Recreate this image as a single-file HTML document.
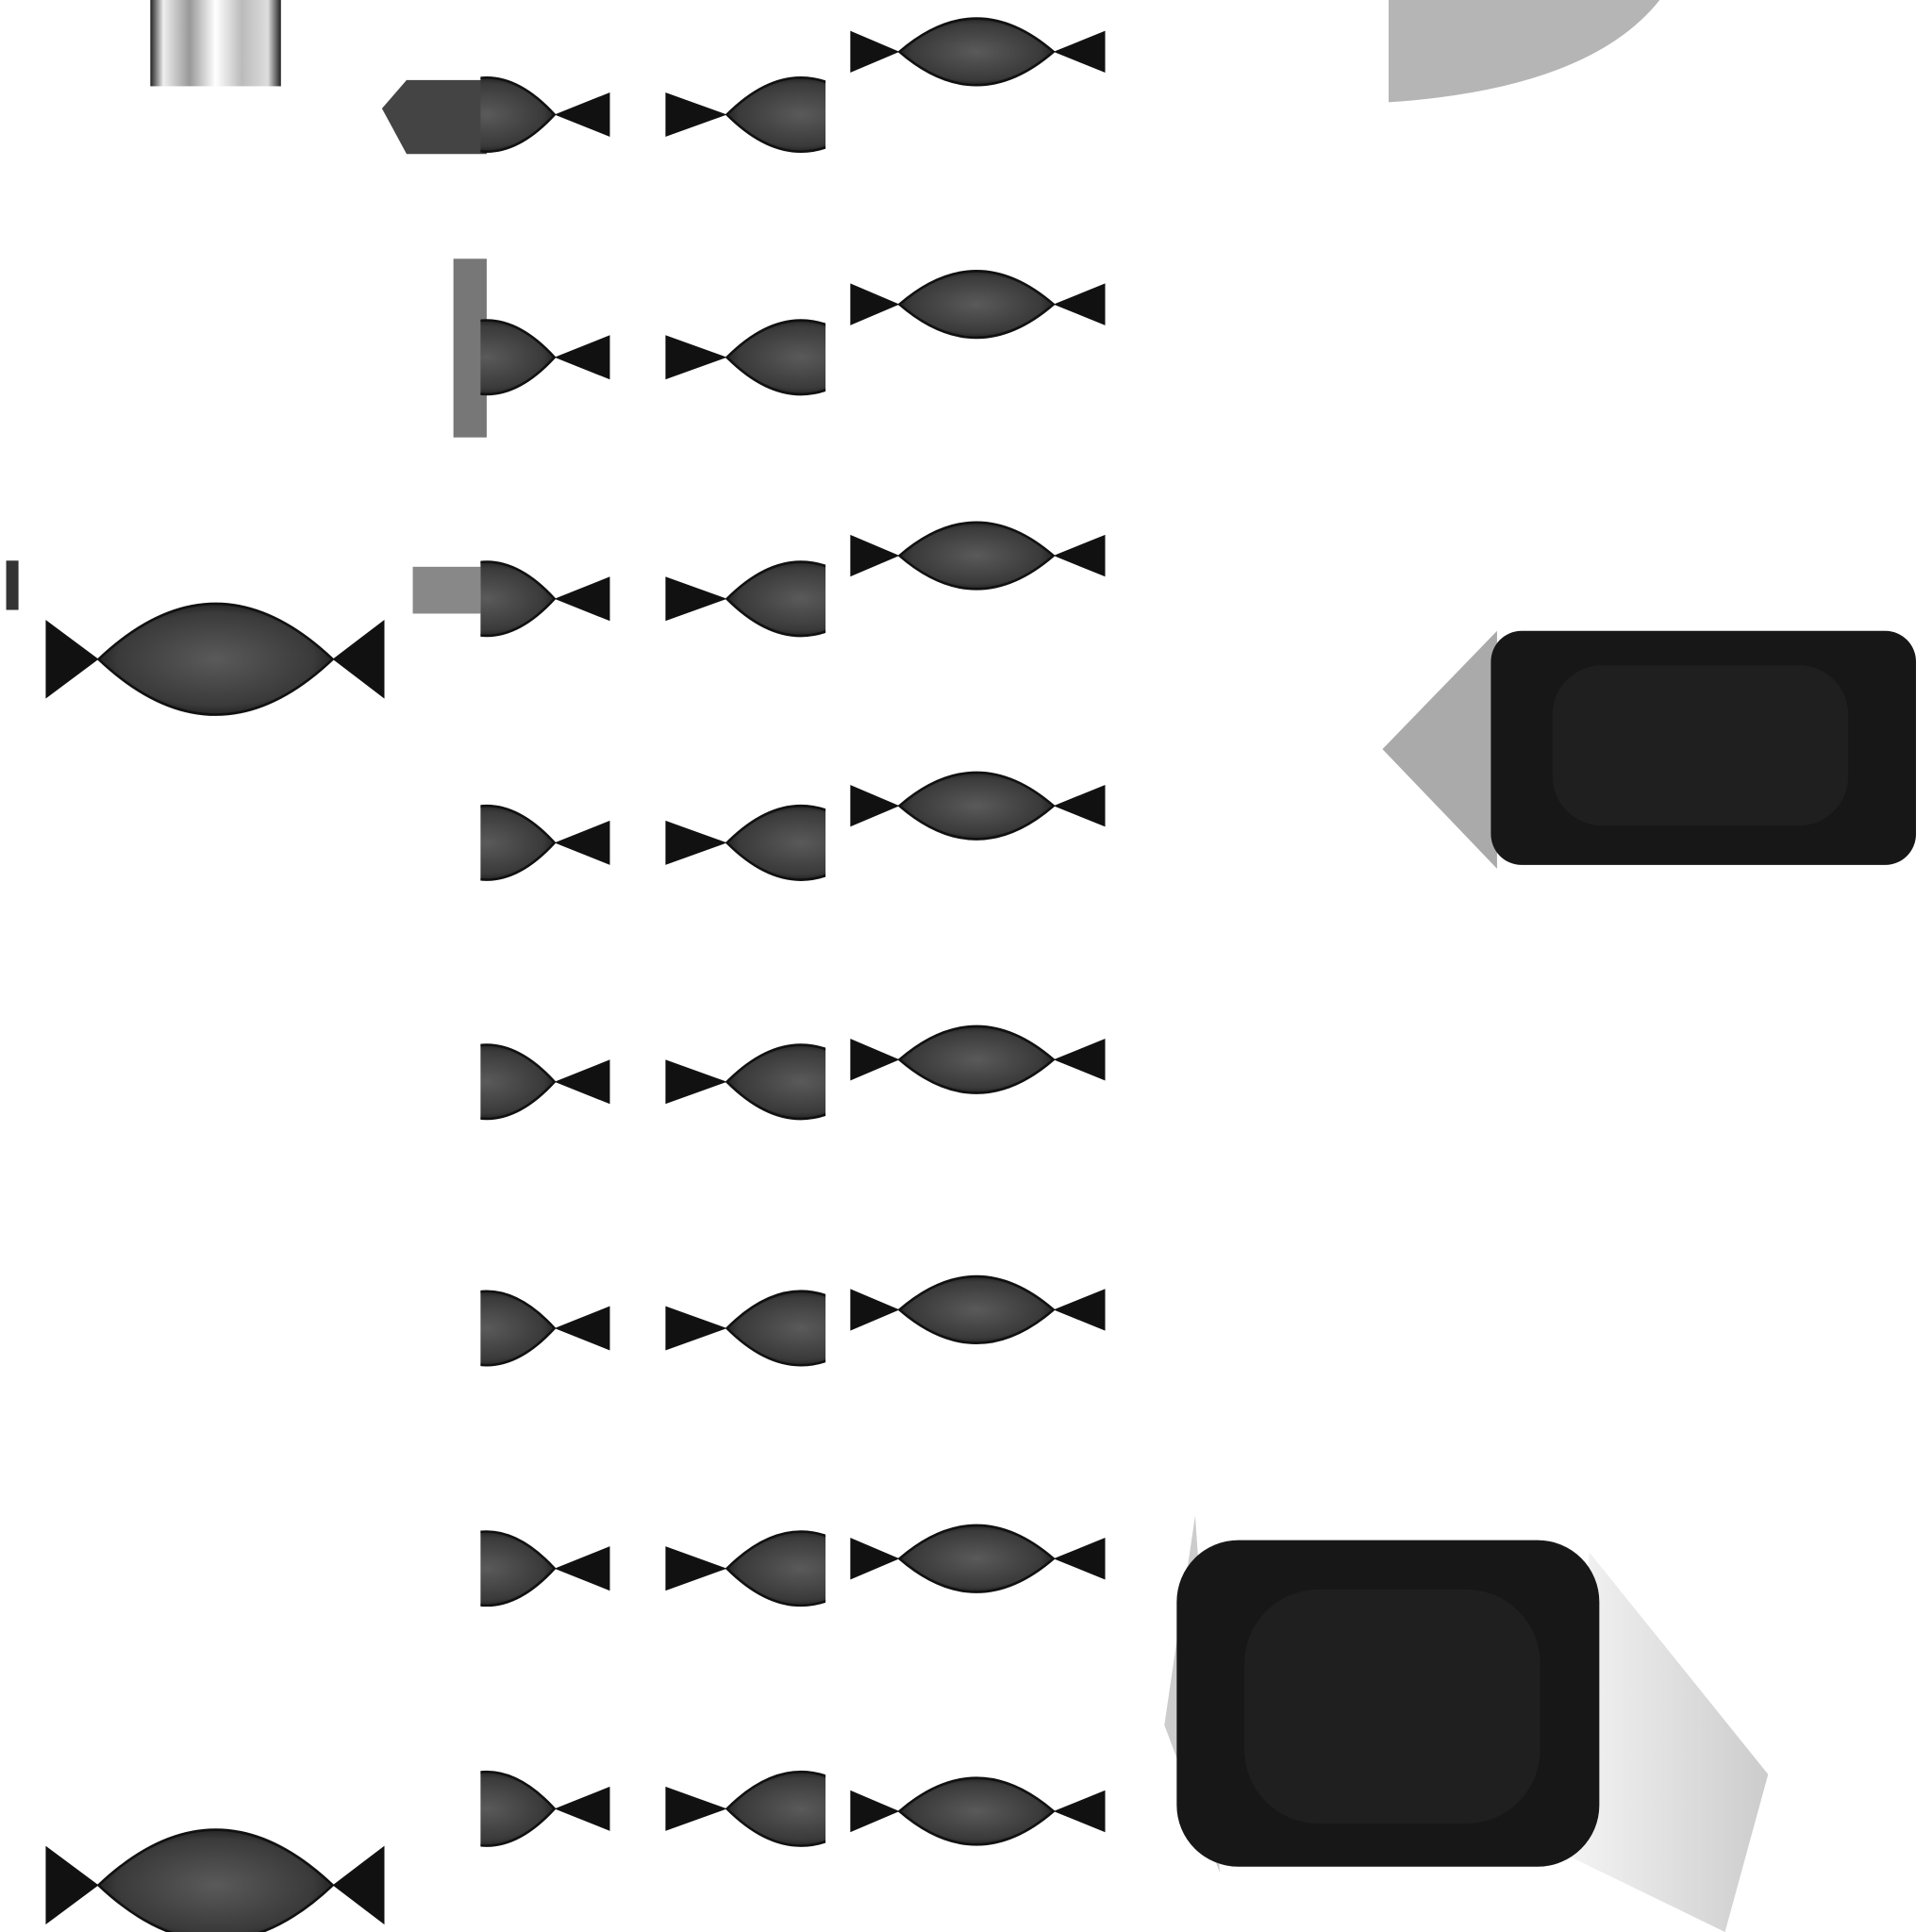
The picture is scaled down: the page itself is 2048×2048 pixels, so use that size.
<!DOCTYPE html>
<html><head><meta charset="utf-8"><style>
html,body{margin:0;padding:0;background:#fff;}
svg{display:block;}
</style></head><body>
<svg id="atlas" width="2048" height="2048" viewBox="0 0 1568 1568" xmlns="http://www.w3.org/2000/svg">
<defs>
<linearGradient id="stripes" x1="0" x2="1" y1="0" y2="0">
<stop offset="0" stop-color="#222"/><stop offset="0.1" stop-color="#eee"/><stop offset="0.3" stop-color="#999"/><stop offset="0.5" stop-color="#fff"/><stop offset="0.7" stop-color="#bbb"/><stop offset="0.9" stop-color="#ddd"/><stop offset="1" stop-color="#222"/>
</linearGradient>
<radialGradient id="lens" cx="0.5" cy="0.5" r="0.6">
<stop offset="0" stop-color="#5a5a5a"/><stop offset="0.7" stop-color="#3a3a3a"/><stop offset="1" stop-color="#0a0a0a"/>
</radialGradient>
<linearGradient id="fan" x1="0" x2="1"><stop offset="0" stop-color="#f2f2f2"/><stop offset="1" stop-color="#aaa"/></linearGradient>
</defs>
<rect x="122" y="0" width="106" height="70" fill="url(#stripes)"/>
<path d="M1127 0 L1347 0 Q1290 72 1127 83 Z" fill="#b5b5b5"/>
<path d="M330 65 L395 65 L395 125 L330 125 L310 88 Z" fill="#444"/>
<rect x="368" y="210" width="27" height="145" fill="#777"/>
<rect x="335" y="460" width="55" height="38" fill="#888"/>
<rect x="5" y="455" width="10" height="40" fill="#333"/>
<g>
<path d="M1122 608 L1215 512 L1215 705 Z" fill="#aaa"/>
<rect x="1210" y="512" width="345" height="190" rx="25" fill="#171717"/>
<rect x="1260" y="540" width="240" height="130" rx="40" fill="#222" opacity="0.8"/>
</g>
<g>
<path d="M970 1230 L945 1400 L990 1520 Z" fill="#ccc"/>
<path d="M1290 1260 L1435 1440 L1400 1568 L1260 1500 Z" fill="url(#fan)" opacity="0.6"/>
<rect x="955" y="1250" width="343" height="265" rx="50" fill="#171717"/>
<rect x="1010" y="1290" width="240" height="190" rx="60" fill="#222" opacity="0.8"/>
</g>
<g id="bows"></g>
</svg>
<script>
const colLeftRows = [93, 290, 486, 684, 878, 1078, 1273, 1468];
const colMidRows = [93, 290, 486, 684, 878, 1078, 1273, 1468];
const colRightRows = [42, 247, 451, 654, 860, 1063, 1265, 1470];
const bows = [];
colLeftRows.forEach(y => bows.push([330, 340, 450, 495, y, 18, 30, 390, 495]));
colMidRows.forEach(y => bows.push([540, 590, 710, 710, y, 18, 30, 540, 670]));
colRightRows.forEach(y => bows.push([690, 730, 855, 897, y, 17, 27, 690, 897]));
bows.push([37, 80, 270, 312, 535, 32, 45, 37, 312]);
bows.push([37, 80, 270, 312, 1530, 32, 45, 37, 312]);
const g = document.getElementById('bows');
const NS = 'http://www.w3.org/2000/svg';
let i = 0;
bows.forEach(b => {
  const [x0, x1, x2, x3, cy, th, lh, cl, cr] = b;
  const grp = document.createElementNS(NS, 'g');
  
  
  const cid = 'clip' + i;
  const cp = document.createElementNS(NS, 'clipPath');
  cp.setAttribute('id', cid);
  const r = document.createElementNS(NS, 'rect');
  r.setAttribute('x', cl); r.setAttribute('y', cy - 100); r.setAttribute('width', cr - cl); r.setAttribute('height', 200);
  cp.appendChild(r); grp.appendChild(cp);
  const tri = document.createElementNS(NS, 'path');
  tri.setAttribute('d', `M${x0} ${cy-th} L${x1} ${cy} L${x0} ${cy+th} Z M${x3} ${cy-th} L${x2} ${cy} L${x3} ${cy+th} Z`);
  tri.setAttribute('fill', '#111');
  tri.setAttribute('clip-path', `url(#${cid})`);
  grp.appendChild(tri);
  const mx = (x1 + x2) / 2;
  const lens = document.createElementNS(NS, 'path');
  lens.setAttribute('d', `M${x1} ${cy} Q${mx} ${cy-2*lh} ${x2} ${cy} Q${mx} ${cy+2*lh} ${x1} ${cy} Z`);
  lens.setAttribute('fill', 'url(#lens)');
  lens.setAttribute('stroke', '#111');
  lens.setAttribute('stroke-width', '2');
  lens.setAttribute('clip-path', `url(#${cid})`);
  grp.appendChild(lens);
  g.appendChild(grp);
  i++;
});
</script>
</body></html>
